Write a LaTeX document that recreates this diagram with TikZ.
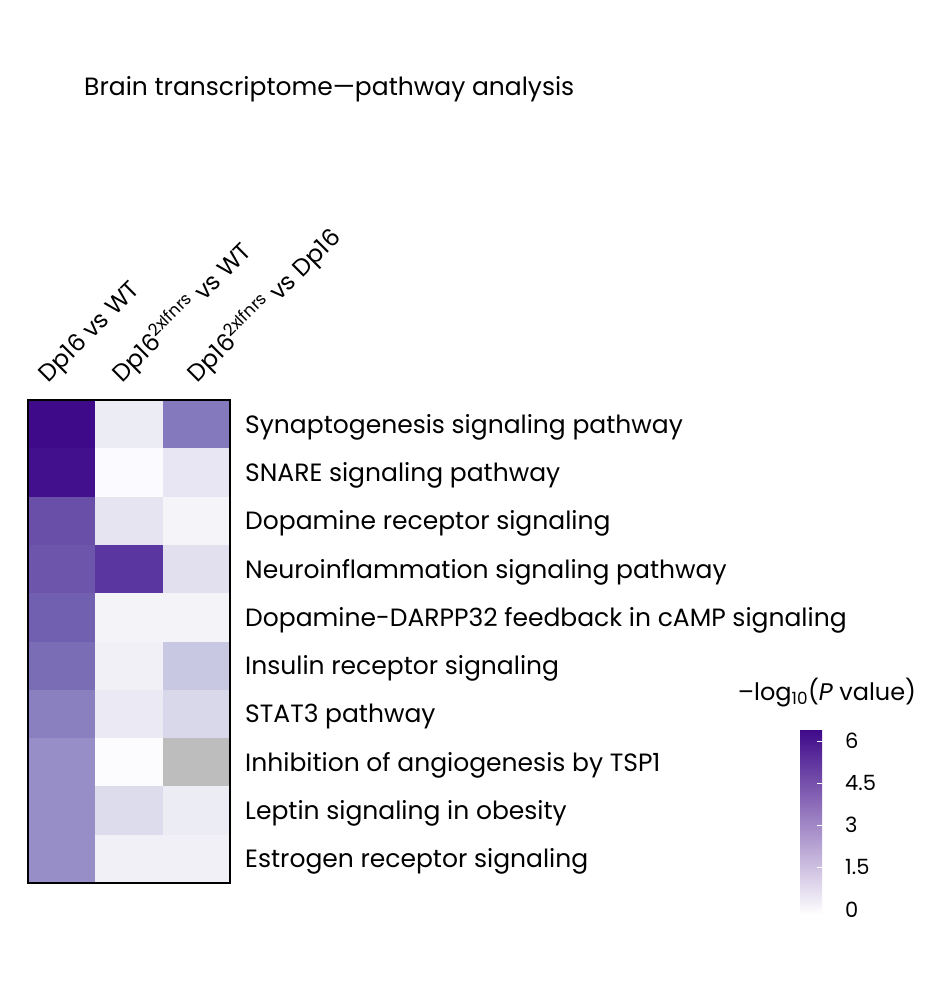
\documentclass[tikz,border=0pt]{standalone}
\usepackage{fontspec}
\setmainfont{Poppins}
\begin{document}
\begin{tikzpicture}[x=1pt,y=-1pt,
  lbl/.style={anchor=west,font=\fontsize{25}{28}\selectfont,inner sep=0pt},
  hdr/.style={anchor=base west,rotate=45,font=\fontsize{24}{26}\selectfont,inner sep=0pt},
  tck/.style={anchor=west,font=\fontsize{21}{23}\selectfont,inner sep=0pt}]
\useasboundingbox[fill=white] (0,0) rectangle (942,1007);
\node[anchor=west,font=\fontsize{25}{28}\selectfont,inner sep=0pt] (title) at (84,89) {Brain transcriptome—pathway analysis};
\def\cw{67.3}\def\rh{48.3}
\foreach \c/\r/\col in {
0/0/3F0A8A,0/1/42108C,0/2/6A4FA8,0/3/6D55AB,0/4/7160B0,0/5/7A6CB5,0/6/8A7FBF,0/7/978EC7,0/8/978EC7,0/9/978EC7,
1/0/ECECF4,1/1/FAFAFF,1/2/E6E4F0,1/3/5A36A0,1/4/F4F4F8,1/5/F0F0F6,1/6/EBEAF4,1/7/FCFCFF,1/8/DCDCEC,1/9/F0F0F6,
2/0/8579BD,2/1/E8E6F2,2/2/F4F4F9,2/3/E2E0EE,2/4/F4F4F8,2/5/C8C8E2,2/6/D8D8EA,2/7/BDBDBD,2/8/ECECF4,2/9/F0F0F6}{
  \definecolor{cc}{HTML}{\col}
  \fill[cc] (28+\c*\cw,400+\r*\rh) rectangle (28+\c*\cw+\cw+0.5,400+\r*\rh+\rh+0.5);
}
\draw[line width=2.5pt] (28,400) rectangle (230,883);
\node[hdr] (h1) at (48,384) {Dp16 vs WT};
\node[hdr] (h2) at (122,384) {Dp16\textsuperscript{2xIfnrs} vs WT};
\node[hdr] (h3) at (197,384) {Dp16\textsuperscript{2xIfnrs} vs Dp16};
\foreach \t [count=\i from 0] in {Synaptogenesis signaling pathway,SNARE signaling pathway,Dopamine receptor signaling,Neuroinflammation signaling pathway,Dopamine-DARPP32 feedback in cAMP signaling,Insulin receptor signaling,STAT3 pathway,Inhibition of angiogenesis by TSP1,Leptin signaling in obesity,Estrogen receptor signaling}
  \node[lbl] (r\i) at (245,427+\i*48.3) {\t};
\definecolor{lt}{HTML}{3F0A8A}\definecolor{lm}{HTML}{A09CCD}
\shade[top color=lt,middle color=lm,bottom color=white] (800,730) rectangle (822,915);
\node[anchor=center,font=\fontsize{24}{26}\selectfont,inner sep=0pt] (lt) at (827,693) {–log\textsubscript{10}(\textit{P} value)};
\foreach \v/\y in {6/741,4.5/783,3/825,1.5/867,0/910}{
  \draw[white,line width=1pt] (817,\y) -- (822,\y);
  \node[tck] at (845,\y) {\v};
}
\end{tikzpicture}
\end{document}
